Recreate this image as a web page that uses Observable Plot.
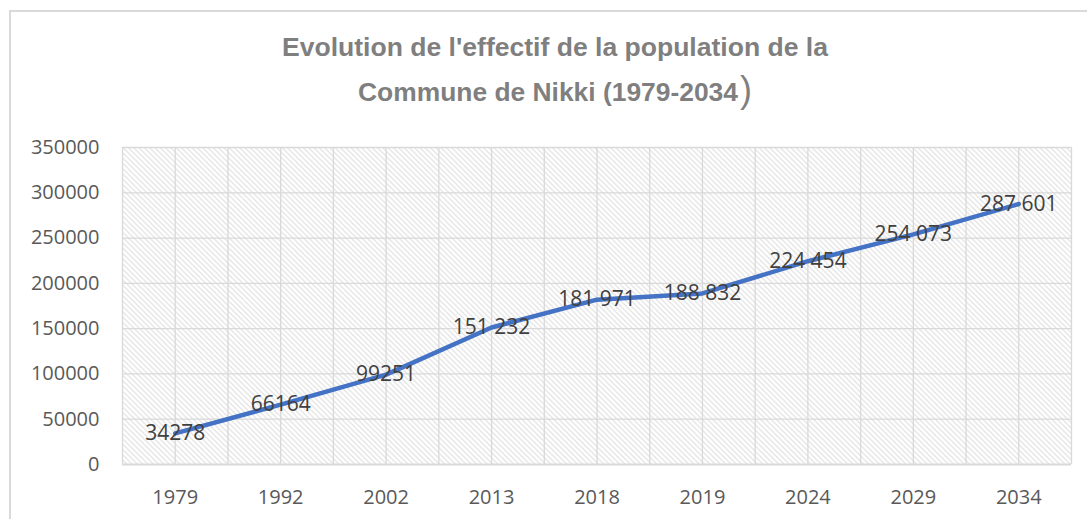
<!DOCTYPE html>
<html>
<head>
<meta charset="utf-8">
<script src="https://cdn.jsdelivr.net/npm/d3@7"></script>
<script src="https://cdn.jsdelivr.net/npm/@observablehq/plot@0.6"></script>
<style>
  html, body { margin: 0; padding: 0; background: #fff; overflow: hidden; }
  #page { position: relative; width: 1087px; height: 519px; }
  #border { position: absolute; left: 9px; top: 10px; width: 1100px; height: 540px; border: 2px solid #d9d9d9; box-sizing: border-box; pointer-events: none; }
  #title { display: block; }
  #chart svg { display: block; }
</style>
</head>
<body>
<div id="page">
  <svg id="title" width="1087" height="120" xmlns="http://www.w3.org/2000/svg">
    <g font-family="'Liberation Sans', Arial, sans-serif" fill="#7f7f7f">
      <text x="282" y="56" font-size="25" font-weight="bold" textLength="546" lengthAdjust="spacingAndGlyphs">Evolution de l'effectif de la population de la</text>
      <text x="358" y="100.5" font-size="25" font-weight="bold" textLength="380" lengthAdjust="spacingAndGlyphs">Commune de Nikki (1979-2034</text>
      <text x="740" y="101.5" font-size="36" font-weight="normal">)</text>
    </g>
  </svg>
  <div id="chart"></div>
  <div id="border"></div>
</div>
<script>
const years = ["1979", "1992", "2002", "2013", "2018", "2019", "2024", "2029", "2034"];
const population = [34278, 66164, 99251, 151232, 181971, 188832, 224454, 254073, 287601];
const valueLabels = ["34278", "66164", "99251", "151 232", "181 971", "188 832", "224 454", "254 073", "287 601"];
const yTicks = [0, 50000, 100000, 150000, 200000, 250000, 300000, 350000];

const data = years.map((y, i) => ({ i, year: y, value: population[i], label: valueLabels[i] }));
const gridX = d3.range(-0.5, years.length - 0.5 + 0.01, 0.5);

const svg = Plot.plot({
  width: 1087,
  height: 399,
  marginTop: 27,
  marginBottom: 55,
  marginLeft: 122,
  marginRight: 16,
  style: { fontFamily: "'Open Sans', sans-serif", fontSize: "20px", color: "#595959", background: "transparent", overflow: "visible" },
  x: { domain: [-0.5, years.length - 0.5], axis: null, label: null },
  y: { domain: [0, 350000], axis: null, label: null },
  marks: [
    Plot.frame({ fill: "url(#hatch)", stroke: "none" }),
    Plot.ruleX(gridX, { stroke: "#d9d9d9", strokeWidth: 1.3 }),
    Plot.ruleY(yTicks.slice(1), { stroke: "#d9d9d9", strokeWidth: 1.3 }),
    Plot.ruleY([0], { stroke: "#d9d9d9", strokeWidth: 2.2 }),
    Plot.axisY(yTicks, { tickSize: 0, tickPadding: 23, tickFormat: d => String(d), fontSize: 20, label: null }),
    Plot.axisX(d3.range(years.length), { tickSize: 0, tickPadding: 25, tickFormat: i => years[i], fontSize: 20, label: null }),
    Plot.line(data, { x: "i", y: "value", stroke: "#4472c4", strokeWidth: 4.5, strokeLinejoin: "round", strokeLinecap: "round" }),
    Plot.text(data, { x: "i", y: "value", text: "label", fill: "#404040", fontSize: 21 })
  ]
});

const defs = d3.select(svg).insert("defs", ":first-child");
const pat = defs.append("pattern")
  .attr("id", "hatch")
  .attr("patternUnits", "userSpaceOnUse")
  .attr("width", 5.3)
  .attr("height", 5.3);
pat.append("rect").attr("width", 5.3).attr("height", 5.3).attr("fill", "#ffffff");
pat.append("path")
  .attr("d", "M0,0 L5.3,5.3 M-1,4.3 L1,6.3 M4.3,-1 L6.3,1")
  .attr("stroke", "#e0e0e0")
  .attr("stroke-width", 1.1);

document.getElementById("chart").appendChild(svg);
</script>
</body>
</html>
